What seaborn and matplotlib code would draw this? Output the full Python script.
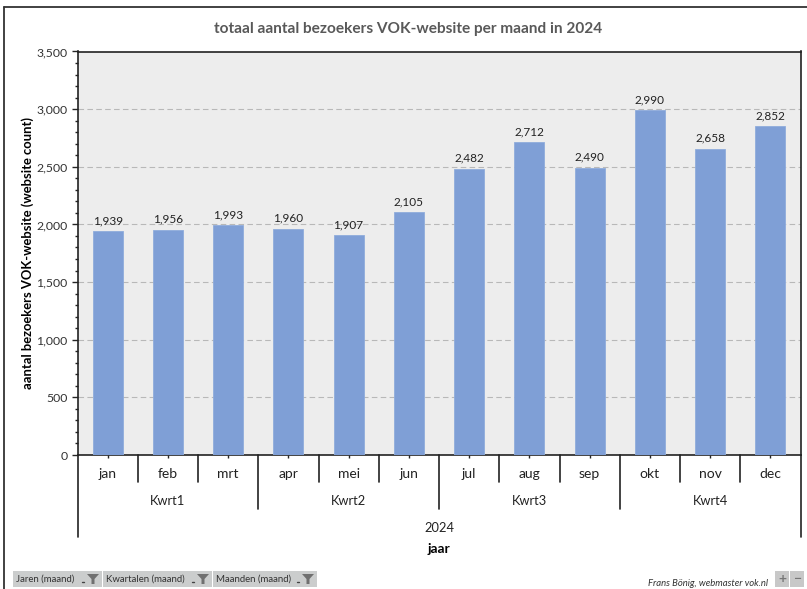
import matplotlib
matplotlib.use("Agg")
import matplotlib.pyplot as plt
import matplotlib.patches as mpatches
from matplotlib.lines import Line2D
from matplotlib.ticker import MultipleLocator, FuncFormatter
import pandas as pd
import seaborn as sns

months = ['jan', 'feb', 'mrt', 'apr', 'mei', 'jun', 'jul', 'aug', 'sep', 'okt', 'nov', 'dec']
visitors = [1939, 1956, 1993, 1960, 1907, 2105, 2482, 2712, 2490, 2990, 2658, 2852]
quarters = ['Kwrt1', 'Kwrt2', 'Kwrt3', 'Kwrt4']
filters = ['Jaren (maand)', 'Kwartalen (maand)', 'Maanden (maand)']

W, H = 807, 589
sns.set_style("white")
plt.rcParams['font.family'] = ['Lato', 'DejaVu Sans']

df = pd.DataFrame({'maand': months, 'bezoekers': visitors})

fig = plt.figure(figsize=(W / 100, H / 100), dpi=100)
ax = fig.add_axes([77.5 / W, 1 - 455 / H, (800.5 - 77.5) / W, (455 - 51.5) / H])
ax.set_facecolor('#EDEDED')

sns.barplot(data=df, x='maand', y='bezoekers', color='#7F9FD6', saturation=1, width=0.5, ax=ax, zorder=3,
            edgecolor='#8FACDC', linewidth=0.6)
ax.set_xlim(-0.5, 11.5)
ax.set_ylim(0, 3500)

# Value labels
for i, v in enumerate(visitors):
    ax.text(i, v + 45, f'{v:,}', ha='center', va='bottom', fontsize=8.5, color='#222222', zorder=4)

# Axes and grid
ax.yaxis.set_major_locator(MultipleLocator(500))
ax.yaxis.set_minor_locator(MultipleLocator(100))
ax.yaxis.set_major_formatter(FuncFormatter(lambda v, p: f'{int(v):,}'))
ax.grid(axis='y', which='major', linestyle=(0, (5, 3)), color='#B8B8B8', linewidth=0.8, zorder=1)
ax.set_axisbelow(True)
ax.tick_params(axis='y', which='major', left=True, length=4, width=1, labelsize=8.8, labelcolor='#333333', pad=3)
ax.tick_params(axis='y', which='minor', left=True, length=2.5, width=1, color='#222222')
ax.tick_params(axis='x', bottom=True, length=2, width=1, labelsize=10, labelcolor='#222222', pad=7)
ax.set_xlabel('')
ax.set_ylabel('')
for s in ax.spines.values():
    s.set_color('#222222')
    s.set_linewidth(1.2)


def px_line(x0, y0, x1, y1, color='#222222', lw=1.2):
    fig.add_artist(Line2D([x0 / W, x1 / W], [1 - y0 / H, 1 - y1 / H], color=color, linewidth=lw))


def px_text(x, y, s, **kw):
    fig.text(x / W, 1 - y / H, s, ha=kw.pop('ha', 'center'), va='center', **kw)


px_text(28, 253, 'aantal bezoekers VOK-website (website count)', fontsize=9.4, fontweight='bold',
        color='black', rotation=90)

# Multi level category axis
ax_left, ax_right = 77.5, 800.5
step = (ax_right - ax_left) / 12
for i in range(13):
    x = ax_left + i * step
    if i in (0, 12):
        px_line(x, 455, x, 537)
    elif i % 3 == 0:
        px_line(x, 455, x, 509)
    else:
        px_line(x, 455, x, 482)
for q, name in enumerate(quarters):
    px_text(ax_left + (q * 3 + 1.5) * step, 501, name, fontsize=9.3, color='#222222')
px_text(ax_left + 6 * step, 528, '2024', fontsize=9.3, color='#222222')
px_text(ax_left + 6 * step, 549, 'jaar', fontsize=10, fontweight='bold', color='black')

# Title and outer frame
px_text(408, 29, 'totaal aantal bezoekers VOK-website per maand in 2024', fontsize=11.1,
        fontweight='bold', color='#595959')
px_line(3.5, 7, 807, 7, color='#333333', lw=1.3)
px_line(3.5, 7, 3.5, 589, color='#333333', lw=1.3)

# Pivot chart filter buttons
edges = [13, 103, 213, 318]
for label, x0, x1 in zip(filters, edges[:-1], edges[1:]):
    fig.add_artist(mpatches.Rectangle((x0 / W, 1 - 587 / H), (x1 - x0 - 1) / W, 16 / H,
                                      transform=fig.transFigure, facecolor='#CBCDCD', edgecolor='none'))
    px_text(x0 + 3, 579.5, label, ha='left', fontsize=6.9, color='#333333')
    fx = x1 - 10
    fig.add_artist(mpatches.Polygon([((fx - 6) / W, 1 - 574 / H), ((fx + 6) / W, 1 - 574 / H), ((fx + 1.5) / W, 1 - 579 / H),
                                     ((fx + 1.5) / W, 1 - 584 / H), ((fx - 1.5) / W, 1 - 584 / H), ((fx - 1.5) / W, 1 - 579 / H)],
                                    transform=fig.transFigure, facecolor='#707070', edgecolor='none'))
    px_line(fx - 11, 581.5, fx - 9, 581.5, color='#444444', lw=1)

# Zoom buttons and credit
for x0, s in zip([775, 790], ['+', '−']):
    fig.add_artist(mpatches.Rectangle((x0 / W, 1 - 587 / H), 14 / W, 16 / H, transform=fig.transFigure,
                                      facecolor='#C8C8C8', edgecolor='none'))
    px_text(x0 + 7, 579, s, fontsize=10, fontweight='bold', color='#777777')
px_text(768, 583, 'Frans Bönig, webmaster vok.nl', ha='right', fontsize=6.8, style='italic', color='#333333')

fig.savefig('out.png', dpi=100, facecolor='white')
